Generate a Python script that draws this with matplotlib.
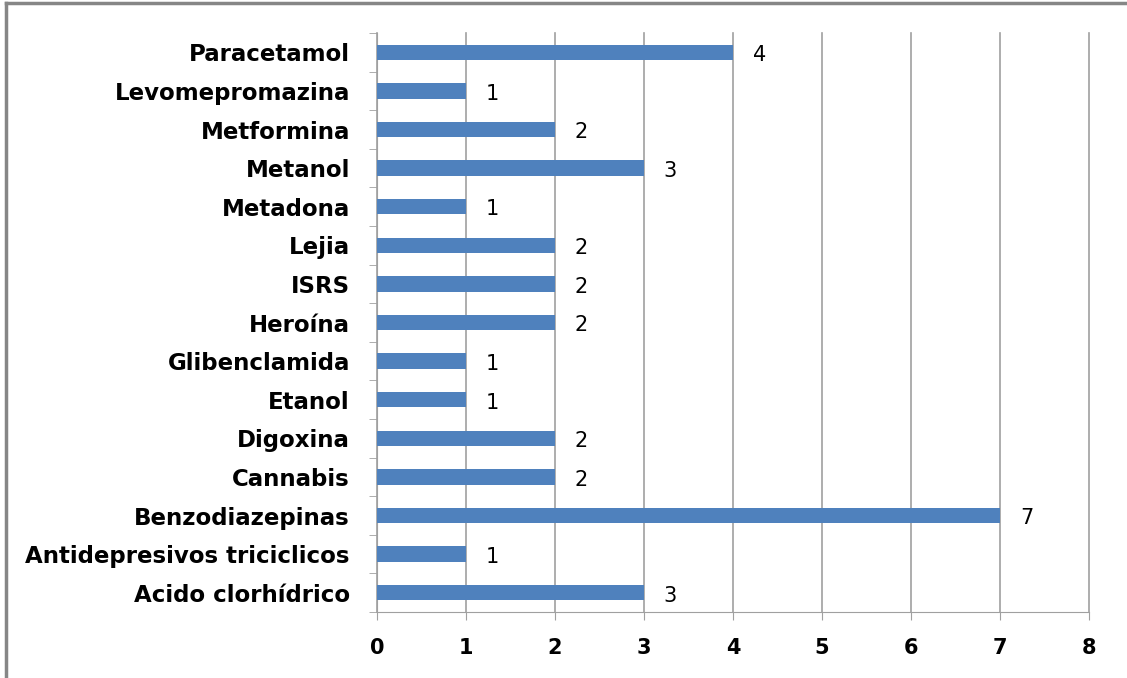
import matplotlib.pyplot as plt
from matplotlib.lines import Line2D
import numpy as np

# categories from bottom to top
drugs = ['Acido clorhídrico', 'Antidepresivos triciclicos', 'Benzodiazepinas',
         'Cannabis', 'Digoxina', 'Etanol', 'Glibenclamida', 'Heroína', 'ISRS',
         'Lejia', 'Metadona', 'Metanol', 'Metformina', 'Levomepromazina', 'Paracetamol']
counts = [3, 1, 7, 2, 2, 1, 1, 2, 2, 2, 1, 3, 2, 1, 4]
x_ticks = [0, 1, 2, 3, 4, 5, 6, 7, 8]

grey = '#A0A0A0'

fig = plt.figure(figsize=(11.27, 6.78), dpi=100)
ax = fig.add_axes([0.3345, 0.0973, 0.6318, 0.854])

pos = np.arange(len(drugs))
ax.barh(pos, counts, height=0.4, color='#4F81BD', zorder=3)

for y, v in zip(pos, counts):
    ax.annotate(str(v), (v, y), xytext=(19, -2), textcoords='offset points',
                ha='center', va='center', fontsize=15, color='black')

ax.set_xlim(0, 8)
ax.set_ylim(-0.5, len(drugs) - 0.5)
ax.set_xticks(x_ticks)
ax.set_xticklabels([str(t) for t in x_ticks], fontweight='bold', fontsize=15)
ax.set_yticks(pos)
ax.set_yticklabels(drugs, fontweight='bold', fontsize=16.5)
ax.set_yticks(np.arange(-0.5, len(drugs), 1), minor=True)
ax.tick_params(axis='y', which='major', length=0, pad=19.5)
ax.tick_params(axis='y', which='minor', length=6, color=grey)
ax.tick_params(axis='x', length=6, color=grey, pad=13)

ax.grid(axis='x', color=grey, linewidth=1.2, zorder=0)
for gl in ax.get_xgridlines():
    gl.set_clip_on(False)
for s in ['top', 'right']:
    ax.spines[s].set_visible(False)
ax.spines['left'].set_color(grey)
ax.spines['bottom'].set_color(grey)

# outer frame (only top and left edges visible in the original)
fig.add_artist(Line2D([0.005, 1.0], [0.995, 0.995], transform=fig.transFigure,
                      color='#868686', linewidth=2.5))
fig.add_artist(Line2D([0.005, 0.005], [0.0, 0.995], transform=fig.transFigure,
                      color='#868686', linewidth=2.5))

plt.savefig('out.png', dpi=100)
